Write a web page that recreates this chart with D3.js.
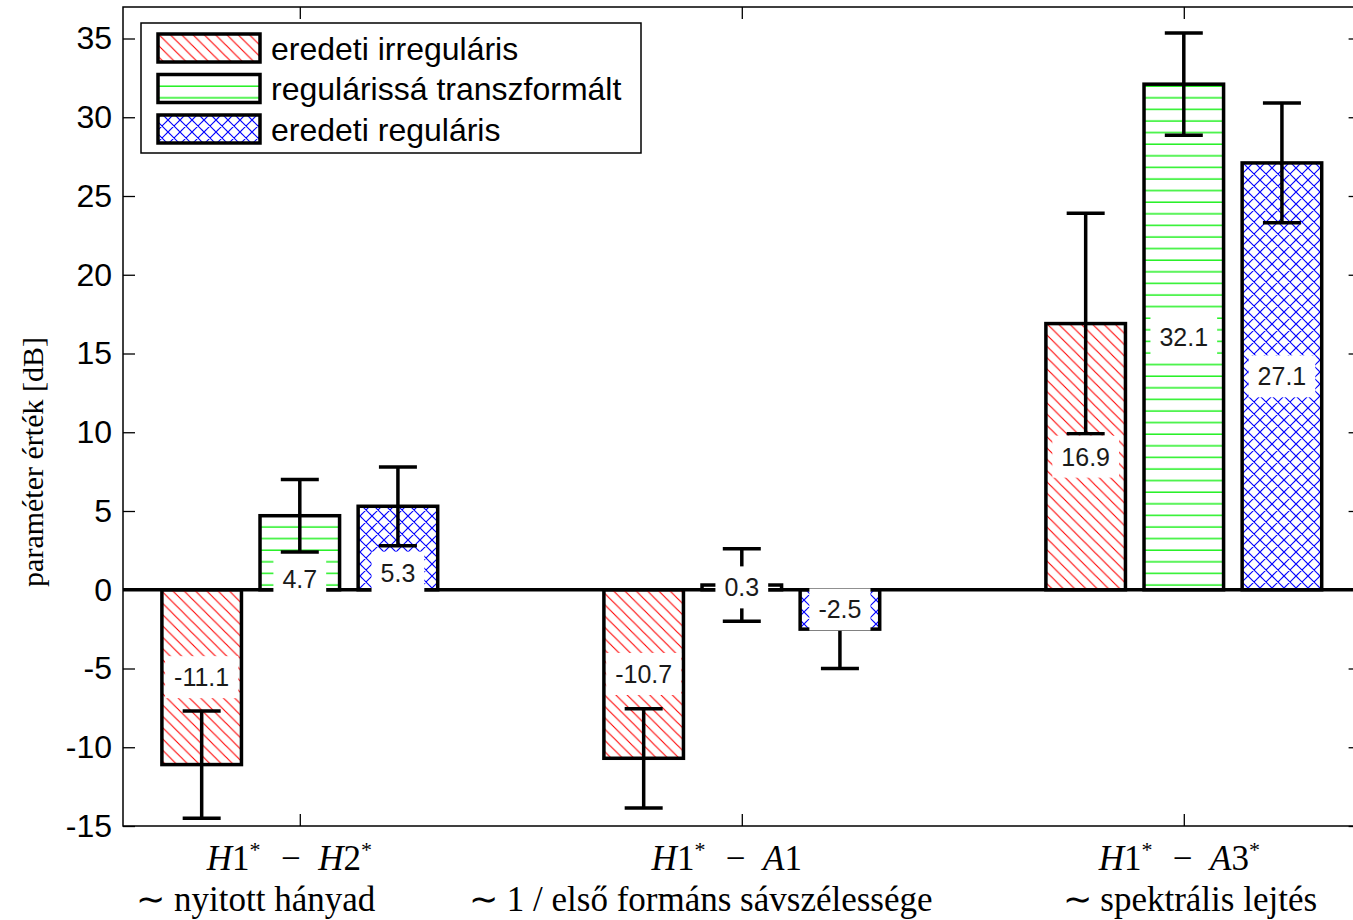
<!DOCTYPE html>
<html>
<head>
<meta charset="utf-8">
<script src="https://cdn.jsdelivr.net/npm/d3@7"></script>
<style>
  body { margin: 0; background: #fff; }
  svg { display: block; }
  .tick text { font-family: "Liberation Sans", Arial, sans-serif; font-size: 32px; fill: #000; }
</style>
</head>
<body>
<div id="chart"></div>
<script>
// data
var series = ["eredeti irreguláris", "regulárissá transzformált", "eredeti reguláris"];
var catMath = ["H1* − H2*", "H1* − A1", "H1* − A3*"];
var catDesc = ["∼ nyitott hányad", "∼ 1 / első formáns sávszélessége", "∼ spektrális lejtés"];
var values = [
    [-11.1, 4.7, 5.3],
    [-10.7, 0.3, -2.5],
    [16.9, 32.1, 27.1]
];
var errors = [
    [3.4, 2.3, 2.5],
    [3.15, 2.3, 2.5],
    [7.0, 3.25, 3.8]
];
var yTicks = [-15, -10, -5, 0, 5, 10, 15, 20, 25, 30, 35];

var W = 1353, H = 920;
var axLeft = 123, axTop = 7, axBottom = 826;
var groupOffset = [-0.222, 0, 0.222], barW = 0.18;
var fills = ["url(#hatchRed)", "url(#hatchGreen)", "url(#hatchBlue)"];

var x = d3.scaleLinear().domain([0.6, 3.4]).range([axLeft, axLeft + 2.8 * 442]);
var y = d3.scaleLinear().domain([-15, 37]).range([axBottom, axTop]);
var axRight = x(3.4);

var svg = d3.select("#chart").append("svg").attr("width", W).attr("height", H);

var defs = svg.append("defs");
var p = 11.3;
defs.append("pattern").attr("id", "hatchRed").attr("patternUnits", "userSpaceOnUse")
    .attr("width", p).attr("height", p)
    .append("path")
    .attr("d", "M0,0 L" + p + "," + p + " M" + (-p / 2) + "," + (p / 2) + " L" + (p / 2) + "," + (p * 1.5) + " M" + (p / 2) + "," + (-p / 2) + " L" + (p * 1.5) + "," + (p / 2))
    .attr("stroke", "#ff0000").attr("stroke-width", 1.1);
defs.append("pattern").attr("id", "hatchGreen").attr("patternUnits", "userSpaceOnUse")
    .attr("width", 10).attr("height", 11.6)
    .append("line").attr("x1", 0).attr("x2", 10).attr("y1", 5).attr("y2", 5)
    .attr("stroke", "#00ee00").attr("stroke-width", 1.3);
var q = 12;
defs.append("pattern").attr("id", "hatchBlue").attr("patternUnits", "userSpaceOnUse")
    .attr("width", q).attr("height", q)
    .append("path")
    .attr("d", "M0,0 L" + q + "," + q + " M" + q + ",0 L0," + q +
        " M-2,-2 L2,2 M" + (q - 2) + "," + (q - 2) + " L" + (q + 2) + "," + (q + 2) +
        " M" + (q + 2) + ",-2 L" + (q - 2) + ",2 M2," + (q - 2) + " L-2," + (q + 2))
    .attr("stroke", "#0000ff").attr("stroke-width", 1.1);

// axes (ticks point inward, like matlab); plain hyphen for negatives
svg.append("g").attr("transform", "translate(" + axLeft + ",0)")
    .call(d3.axisLeft(y).tickValues(yTicks).tickSize(-12).tickSizeOuter(0).tickPadding(11)
        .tickFormat(function (d) { return String(d); }));
svg.append("g").attr("transform", "translate(" + axRight + ",0)")
    .call(d3.axisRight(y).tickValues(yTicks).tickSize(-12).tickSizeOuter(0).tickFormat(""));
svg.append("g").attr("transform", "translate(0," + axBottom + ")")
    .call(d3.axisBottom(x).tickValues([1, 2, 3]).tickSize(-12).tickSizeOuter(0).tickFormat(""));
svg.append("g").attr("transform", "translate(0," + axTop + ")")
    .call(d3.axisTop(x).tickValues([1, 2, 3]).tickSize(-12).tickSizeOuter(0).tickFormat(""));
svg.selectAll(".domain").remove();
svg.selectAll(".tick line").attr("stroke", "#000").attr("stroke-width", 1.3);

svg.append("rect").attr("x", axLeft).attr("y", axTop)
    .attr("width", axRight - axLeft).attr("height", axBottom - axTop)
    .attr("fill", "none").attr("stroke", "#000").attr("stroke-width", 1.5);

// baseline
svg.append("line").attr("x1", axLeft).attr("x2", axRight).attr("y1", y(0)).attr("y2", y(0))
    .attr("stroke", "#000").attr("stroke-width", 3.5);

var bars = [];
values.forEach(function (row, i) {
    row.forEach(function (v, j) {
        bars.push({ cat: i, s: j, v: v, e: errors[i][j], xc: i + 1 + groupOffset[j] });
    });
});

svg.append("g").selectAll("rect").data(bars).enter().append("rect")
    .attr("x", function (d) { return x(d.xc - barW / 2); })
    .attr("width", function (d) { return x(d.xc + barW / 2) - x(d.xc - barW / 2); })
    .attr("y", function (d) { return y(Math.max(0, d.v)); })
    .attr("height", function (d) { return Math.abs(y(d.v) - y(0)); })
    .attr("fill", function (d) { return fills[d.s]; })
    .attr("stroke", "#000").attr("stroke-width", 3.5);

// error bars
var eb = svg.append("g").attr("stroke", "#000").attr("stroke-width", 3.5);
bars.forEach(function (d) {
    var cx = x(d.xc);
    eb.append("line").attr("x1", cx).attr("x2", cx).attr("y1", y(d.v + d.e)).attr("y2", y(d.v - d.e));
    [d.v + d.e, d.v - d.e].forEach(function (t) {
        eb.append("line").attr("x1", cx - 19).attr("x2", cx + 19).attr("y1", y(t)).attr("y2", y(t));
    });
});

// value labels with white boxes
var lab = svg.append("g");
bars.forEach(function (d) {
    var cx = x(d.xc);
    var cy = y(d.v / 2);
    var bh = 42;
    var low = d.v - d.e;
    if (d.v > 0 && low > 0 && cy - bh / 2 < y(low)) {
        cy = y(low) + 6 + bh / 2;
    }
    var g = lab.append("g");
    var r = g.append("rect").attr("fill", "#fff");
    var t = g.append("text").attr("x", cx).attr("y", cy).attr("dy", "0.36em")
        .attr("text-anchor", "middle")
        .style("font-family", "Liberation Sans, Arial, sans-serif").style("font-size", "25px")
        .style("fill", "#1a1a1a").text(d.v.toFixed(1));
    var tw = t.node().getComputedTextLength();
    r.attr("x", cx - tw / 2 - 9).attr("width", tw + 18).attr("y", cy - bh / 2).attr("height", bh);
});

// legend
var lg = svg.append("g");
lg.append("rect").attr("x", 141).attr("y", 23).attr("width", 500).attr("height", 130)
    .attr("fill", "#fff").attr("stroke", "#000").attr("stroke-width", 1.5);
series.forEach(function (s, j) {
    var cy = 48 + j * 40.5;
    lg.append("rect").attr("x", 158).attr("y", cy - 14).attr("width", 102).attr("height", 28)
        .attr("fill", fills[j]).attr("stroke", "#000").attr("stroke-width", 3.5);
    lg.append("text").attr("x", 271).attr("y", cy).attr("dy", "0.36em")
        .style("font-family", "Liberation Sans, Arial, sans-serif").style("font-size", "32px")
        .text(s);
});

// y label
svg.append("text").attr("transform", "translate(43,462) rotate(-90)")
    .attr("text-anchor", "middle")
    .style("font-family", "Liberation Serif, Times New Roman, serif").style("font-size", "30px")
    .text("paraméter érték [dB]");

// x labels: math line + description line
function mathText(sel, str) {
    str.split("").forEach(function (c) {
        if (c === " ") return;
        if (c === "*") {
            sel.append("tspan").attr("dy", -13).style("font-size", "22px").text("*");
            sel.append("tspan").attr("dy", 13).text("\u200A");
        } else if (c === "−") {
            sel.append("tspan").text("\u2002−\u2002");
        } else if (/[A-Za-z]/.test(c)) {
            sel.append("tspan").style("font-style", "italic").text(c);
        } else {
            sel.append("tspan").text(c);
        }
    });
}
var line1Shift = [-9, -15, -3], line2Shift = [-44, -41, 6];
catMath.forEach(function (c, i) {
    var t = svg.append("text").attr("x", x(i + 1) + line1Shift[i]).attr("y", 870)
        .attr("text-anchor", "middle")
        .style("font-family", "Liberation Serif, Times New Roman, serif").style("font-size", "35px");
    mathText(t, c);
    svg.append("text").attr("x", x(i + 1) + line2Shift[i]).attr("y", 911)
        .attr("text-anchor", "middle")
        .style("font-family", "Liberation Serif, Times New Roman, serif").style("font-size", "35px")
        .text(catDesc[i]);
});
</script>
</body>
</html>
